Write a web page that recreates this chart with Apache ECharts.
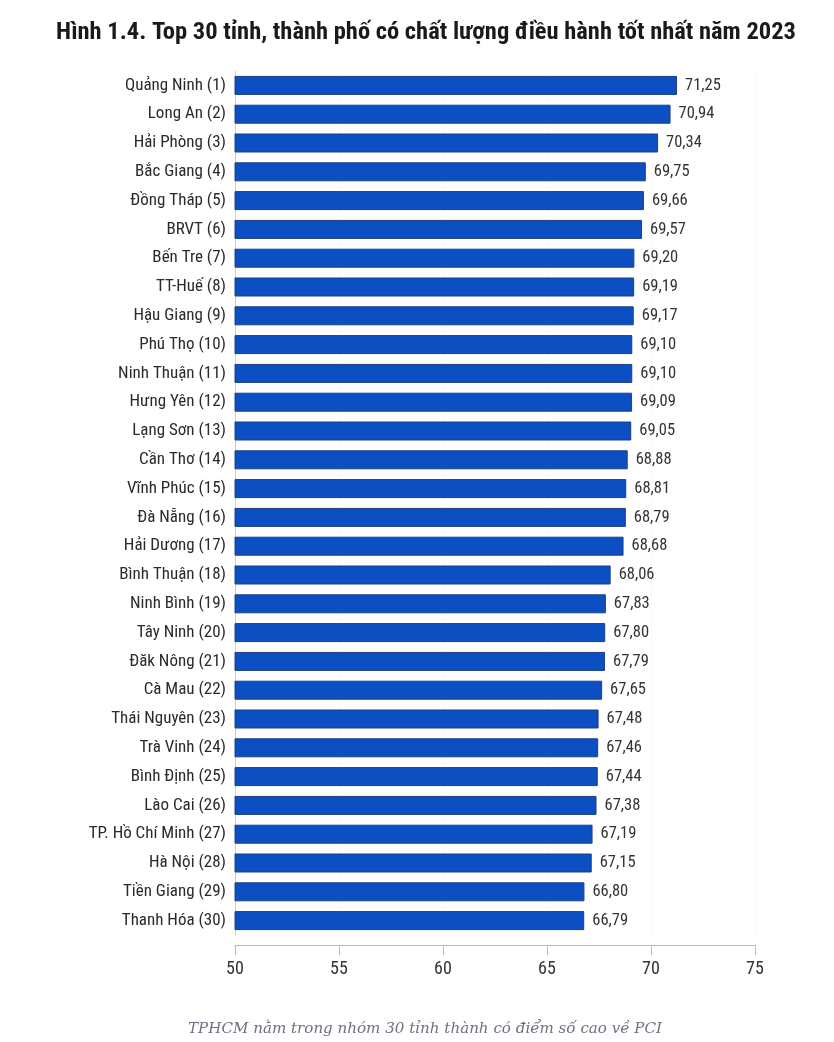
<!DOCTYPE html>
<html><head><meta charset="utf-8">
<script src="https://cdn.jsdelivr.net/npm/echarts@6/dist/echarts.min.js"></script>
<style>html,body{margin:0;padding:0;background:#fff}#c{width:834px;height:1042px}</style>
</head><body><div id="c"></div>
<script>
const titleText = "Hình 1.4. Top 30 tỉnh, thành phố có chất lượng điều hành tốt nhất năm 2023";
const captionText = "TPHCM nằm trong nhóm 30 tỉnh thành có điểm số cao về PCI";
const categories = ["Quảng Ninh (1)","Long An (2)","Hải Phòng (3)","Bắc Giang (4)","Đồng Tháp (5)","BRVT (6)","Bến Tre (7)","TT-Huế (8)","Hậu Giang (9)","Phú Thọ (10)","Ninh Thuận (11)","Hưng Yên (12)","Lạng Sơn (13)","Cần Thơ (14)","Vĩnh Phúc (15)","Đà Nẵng (16)","Hải Dương (17)","Bình Thuận (18)","Ninh Bình (19)","Tây Ninh (20)","Đăk Nông (21)","Cà Mau (22)","Thái Nguyên (23)","Trà Vinh (24)","Bình Định (25)","Lào Cai (26)","TP. Hồ Chí Minh (27)","Hà Nội (28)","Tiền Giang (29)","Thanh Hóa (30)"];
const scores = [71.25,70.94,70.34,69.75,69.66,69.57,69.20,69.19,69.17,69.10,69.10,69.09,69.05,68.88,68.81,68.79,68.68,68.06,67.83,67.80,67.79,67.65,67.48,67.46,67.44,67.38,67.19,67.15,66.80,66.79];
const xTicks = [50,55,60,65,70,75];

const cond = "'Roboto Condensed','Liberation Sans Narrow','DejaVu Sans Condensed','Roboto',sans-serif";
const chart = echarts.init(document.getElementById('c'), null, {renderer:'canvas'});
chart.setOption({
  animation:false,
  backgroundColor:'#fff',
  title:[{
    text:titleText, left:421, textAlign:'center', top:15,
    textStyle:{fontFamily:cond, fontWeight:'bold', fontSize:24.5, color:'#1a1a1a'}
  },{
    text:captionText, left:420, textAlign:'center', top:1017,
    textStyle:{fontFamily:"'DejaVu Serif','Liberation Serif',serif", fontStyle:'italic', fontWeight:'normal', fontSize:15.1, color:'#6c7280'}
  }],
  grid:{left:235, right:79, top:71, bottom:107, containLabel:false},
  xAxis:{
    type:'value', min:xTicks[0], max:xTicks[xTicks.length-1], interval:5, offset:10,
    axisLine:{show:true, lineStyle:{color:'#bbb', width:1}},
    axisTick:{show:true, length:10, lineStyle:{color:'#bbb'}},
    axisLabel:{fontFamily:cond, fontSize:18, color:'#333', margin:15},
    splitLine:{show:true, lineStyle:{color:'#f3f3f3', type:'dotted'}}
  },
  yAxis:{
    type:'category', data:categories, inverse:true,
    axisLine:{show:true, lineStyle:{color:'#ccc'}},
    axisTick:{show:false},
    axisLabel:{fontFamily:cond, fontSize:17, color:'#2a2a2a', margin:9}
  },
  series:[{
    type:'bar', data:scores, barWidth:19,
    itemStyle:{color:'#0b4fc2', borderColor:'#1d3f86', borderWidth:1},
    label:{show:true, position:'right', distance:8, fontFamily:cond, fontSize:16.5, color:'#333',
      formatter:p=>p.value.toFixed(2).replace('.',',')}
  }]
});
</script></body></html>
